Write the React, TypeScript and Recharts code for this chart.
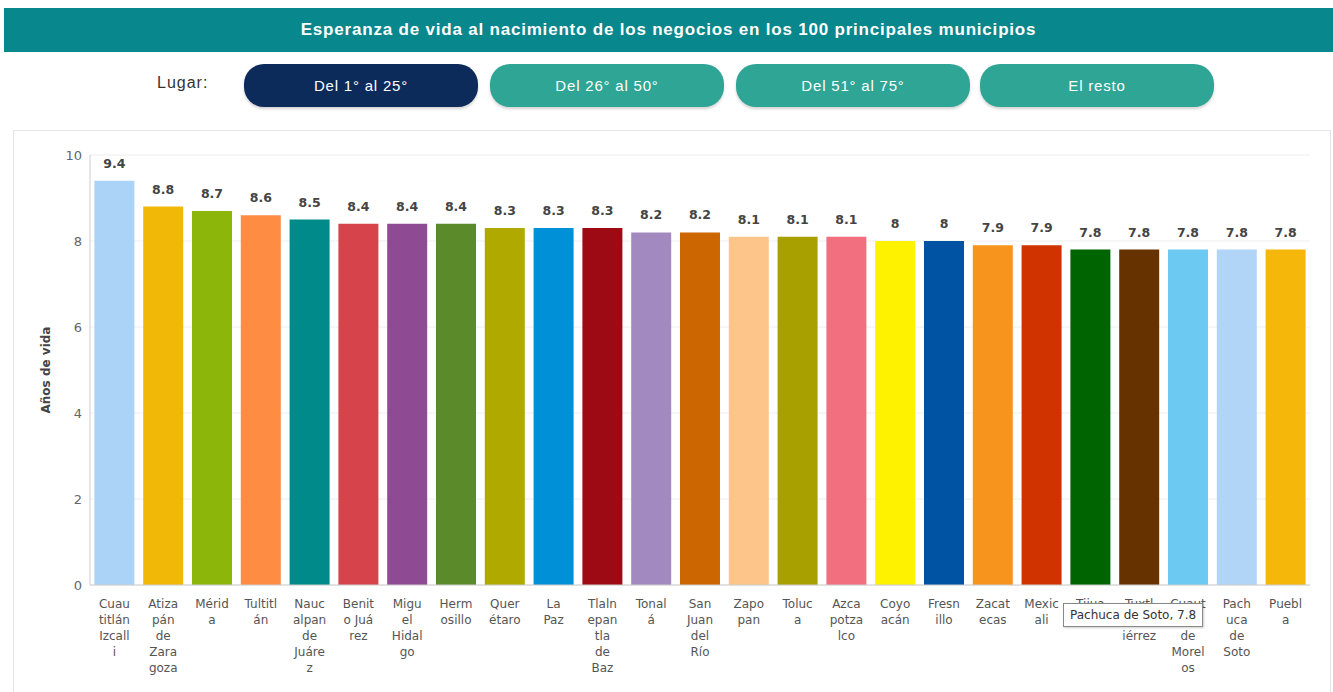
import React from "react"
import {
  BarChart, Bar, XAxis, YAxis, CartesianGrid, Cell, LabelList, Tooltip,
} from "recharts"

const MUNICIPIOS = [
  "Cuautitlán Izcalli", "Atizapán de Zaragoza", "Mérida", "Tultitlán",
  "Naucalpan de Juárez", "Benito Juárez", "Miguel Hidalgo", "Hermosillo",
  "Querétaro", "La Paz", "Tlalnepantla de Baz", "Tonalá", "San Juan del Río",
  "Zapopan", "Toluca", "Azcapotzalco", "Coyoacán", "Fresnillo", "Zacatecas",
  "Mexicali", "Tijuana", "Tuxtla Gutiérrez", "Cuautla de Morelos",
  "Pachuca de Soto", "Puebla",
]

// tick labels as the chart wraps them
const TICK_LINES = [
  ["Cuau", "titlán", "Izcall", "i"],
  ["Atiza", "pán", "de", "Zara", "goza"],
  ["Mérid", "a"],
  ["Tultitl", "án"],
  ["Nauc", "alpan", "de", "Juáre", "z"],
  ["Benit", "o Juá", "rez"],
  ["Migu", "el", "Hidal", "go"],
  ["Herm", "osillo"],
  ["Quer", "étaro"],
  ["La", "Paz"],
  ["Tlaln", "epan", "tla", "de", "Baz"],
  ["Tonal", "á"],
  ["San", "Juan", "del", "Río"],
  ["Zapo", "pan"],
  ["Toluc", "a"],
  ["Azca", "potza", "lco"],
  ["Coyo", "acán"],
  ["Fresn", "illo"],
  ["Zacat", "ecas"],
  ["Mexic", "ali"],
  ["Tijua", "na"],
  ["Tuxtl", "a Gut", "iérrez"],
  ["Cuaut", "la", "de", "Morel", "os"],
  ["Pach", "uca", "de", "Soto"],
  ["Puebl", "a"],
]

const ANOS = [
  9.4, 8.8, 8.7, 8.6, 8.5, 8.4, 8.4, 8.4, 8.3, 8.3, 8.3, 8.2, 8.2,
  8.1, 8.1, 8.1, 8, 8, 7.9, 7.9, 7.8, 7.8, 7.8, 7.8, 7.8,
]

const COLORES = [
  "#abd3f7", "#f2b807", "#8cb60a", "#ff8c42", "#008b8b", "#d6434a", "#8e4a93",
  "#5b8a2a", "#b0aa00", "#0090d8", "#9e0a14", "#a28ac0", "#cc6600", "#fdc58a",
  "#a8a000", "#f26f80", "#fff200", "#0052a3", "#f7941d", "#d03300", "#006400",
  "#663300", "#6ccaf2", "#b0d5f7", "#f5b80a",
]

const Y_TICKS = [0, 2, 4, 6, 8, 10]

const BOTONES = ["Del 1° al 25°", "Del 26° al 50°", "Del 51° al 75°", "El resto"]

const data = MUNICIPIOS.map((m, i) => ({
  municipio: m,
  anos: ANOS[i],
  color: COLORES[i],
}))

const FONT = "'DejaVu Sans', Verdana, sans-serif"
const HEAD_FONT = "'Liberation Sans', Arial, sans-serif"

function WrappedTick(props: any) {
  const { x, y, payload } = props
  const lines = TICK_LINES[payload.index] || [payload.value]
  return (
    <text x={x} y={y + 6} textAnchor="middle" fill="#555" fontSize={12} fontFamily={FONT}>
      {lines.map((l, i) => (
        <tspan key={i} x={x} dy={i === 0 ? "0.71em" : 16}>{l}</tspan>
      ))}
    </text>
  )
}

function TipBox() {
  return (
    <div style={{
      background: "#fff", border: "1px solid #888", padding: "4px 6px",
      fontFamily: FONT, fontSize: 12, color: "#333", whiteSpace: "nowrap",
      boxShadow: "1px 1px 2px rgba(0,0,0,0.2)",
    }}>
      Pachuca de Soto, 7.8
    </div>
  )
}

export default function App() {
  return (
    <div style={{ position: "absolute", left: 0, top: 0, width: 1333, height: 692, background: "#fff", overflow: "hidden" }}>
      {/* header */}
      <div style={{
        position: "absolute", left: 4, top: 8, width: 1329, height: 44,
        background: "#08878c", color: "#fff", fontFamily: HEAD_FONT,
        fontWeight: "bold", fontSize: 17, letterSpacing: 0.8, lineHeight: "44px", textAlign: "center",
      }}>
        Esperanza de vida al nacimiento de los negocios en los 100 principales municipios
      </div>

      {/* filter buttons */}
      <div style={{
        position: "absolute", left: 157, top: 74, fontFamily: HEAD_FONT,
        fontSize: 16, letterSpacing: 1, color: "#333",
      }}>Lugar:</div>
      {BOTONES.map((b, i) => (
        <div key={b} style={{
          position: "absolute", left: [244, 490, 736, 980][i], top: 64, width: 234, height: 43,
          borderRadius: 20, background: i === 0 ? "#0c2b5b" : "#2ea595", color: "#fff",
          fontFamily: HEAD_FONT, fontSize: 15, letterSpacing: 0.8, lineHeight: "43px",
          textAlign: "center", boxShadow: "0 2px 3px rgba(0,0,0,0.18)",
        }}>{b}</div>
      ))}

      {/* panel */}
      <div style={{ position: "absolute", left: 13, top: 130, width: 1316, height: 600, border: "1px solid #e4e4e4" }} />

      <div style={{ position: "absolute", left: 0, top: 130 }}>
        <BarChart
          width={1333}
          height={562}
          data={data}
          margin={{ top: 25, right: 23, left: 40, bottom: 0 }}
          barCategoryGap="9%"
        >
          <CartesianGrid vertical={false} stroke="#eeeeee" />
          <XAxis
            dataKey="municipio"
            interval={0}
            height={107}
            axisLine={{ stroke: "#cccccc" }}
            tickLine={false}
            tick={<WrappedTick />}
          />
          <YAxis
            width={50}
            domain={[0, 10]}
            ticks={Y_TICKS}
            axisLine={{ stroke: "#cccccc" }}
            tickLine={false}
            tick={{ fill: "#666", fontSize: 13, fontFamily: FONT }}
            label={{
              content: (p: any) => {
                const vb = p.viewBox
                const cx = vb.x + 6
                const cy = vb.y + vb.height / 2
                return (
                  <text x={cx} y={cy} transform={`rotate(-90 ${cx} ${cy})`} textAnchor="middle"
                    dominantBaseline="central" fontFamily={FONT} fontSize={12} fontWeight="bold" fill="#444">
                    Años de vida
                  </text>
                )
              },
            }}
          />
          <Tooltip
            defaultIndex={23}
            cursor={false}
            isAnimationActive={false}
            position={{ x: 1063, y: 473 }}
            content={<TipBox />}
          />
          <Bar dataKey="anos" isAnimationActive={false}>
            {data.map((d, i) => (
              <Cell key={i} fill={d.color} />
            ))}
            <LabelList
              dataKey="anos"
              position="top"
              offset={13}
              style={{ fill: "#444", fontSize: 12.5, fontWeight: 600, fontFamily: FONT }}
            />
          </Bar>
        </BarChart>
      </div>
    </div>
  )
}
